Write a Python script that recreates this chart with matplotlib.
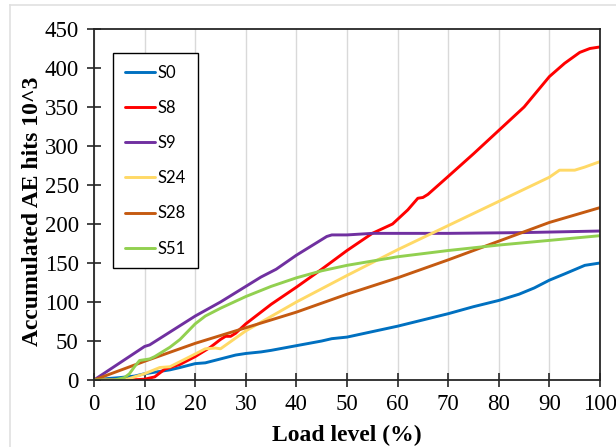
import matplotlib
matplotlib.use("Agg")
import matplotlib.pyplot as plt
from matplotlib.lines import Line2D

# Data
s0_x = [0, 3, 5, 8, 10, 13, 15, 17, 20, 22, 25, 28, 30, 33, 35, 40, 45, 47, 50, 55, 60, 65, 70, 75, 80, 84, 87, 90, 93, 97, 100]
s0_y = [0, 2, 3, 5, 8, 11, 13, 16, 21, 22, 27, 32, 34, 36, 38, 44, 50, 53, 55, 62, 69, 77, 85, 94, 102, 110, 118, 128, 136, 147, 150]

s8_x = [0, 7, 10, 12, 14, 16, 17, 20, 23, 25, 26, 27, 28, 30, 35, 40, 45, 50, 55, 59, 62, 64, 65, 66, 70, 75, 80, 85, 90, 93, 96, 98, 100]
s8_y = [0, 0, 1, 4, 14, 18, 20, 30, 42, 52, 56, 56, 60, 72, 97, 119, 142, 166, 188, 200, 218, 233, 234, 238, 261, 290, 320, 350, 389, 406, 420, 425, 427]

s9_x = [0, 10, 11, 20, 25, 30, 33, 36, 40, 43, 46, 47, 50, 55, 70, 85, 100]
s9_y = [0, 43, 45, 82, 100, 120, 132, 142, 160, 172, 184, 186, 186, 188, 188, 189, 191]

s24_x = [0, 6, 8, 10, 13, 15, 19, 22, 24, 25, 30, 40, 50, 60, 70, 80, 90, 92, 95, 97, 100]
s24_y = [0, 0, 4, 8, 16, 17, 30, 40, 41, 40, 63, 100, 134, 167, 198, 229, 260, 269, 269, 273, 280]

s28_x = [0, 10, 20, 25, 30, 40, 50, 60, 70, 80, 90, 100]
s28_y = [0, 24, 47, 57, 67, 87, 110, 131, 154, 178, 202, 221]

s51_x = [0, 4, 6, 7, 8, 9, 11, 12, 15, 17, 20, 22, 25, 30, 35, 40, 45, 50, 60, 70, 80, 90, 100]
s51_y = [0, 0, 3, 8, 17, 25, 27, 30, 42, 52, 72, 82, 92, 107, 120, 131, 140, 147, 158, 166, 173, 179, 185]

labels = ["S0", "S8", "S9", "S24", "S28", "S51"]
colors = ["#0070C0", "#FF0000", "#7030A0", "#FFD966", "#C55A11", "#92D050"]
series = [(s0_x, s0_y), (s8_x, s8_y), (s9_x, s9_y), (s24_x, s24_y), (s28_x, s28_y), (s51_x, s51_y)]

W, H = 616, 447
fig = plt.figure(figsize=(W / 100, H / 100), dpi=100)
ax = fig.add_axes([94 / W, (H - 380) / H, (600 - 94) / W, (380 - 29) / H])

for (x, y), lab, c in zip(series, labels, colors):
    ax.plot(x, y, color=c, lw=2.1, label=lab, solid_capstyle="round", solid_joinstyle="round")

ax.set_xlim(0, 100)
ax.set_ylim(0, 450)
ax.set_xticks(range(0, 101, 10))
ax.set_yticks(range(0, 451, 50))
ax.grid(axis="x", color="#d9d9d9", lw=1)
ax.set_axisbelow(True)

serif = ["Liberation Serif", "DejaVu Serif"]
for lbl in ax.get_xticklabels() + ax.get_yticklabels():
    lbl.set_fontfamily(serif)
    lbl.set_fontsize(16.5)
ax.tick_params(direction="inout", length=10, width=1.2, color="#262626")
ax.tick_params(axis="y", pad=6)
ax.tick_params(axis="x", pad=5)
for s in ax.spines.values():
    s.set_color("#262626")
    s.set_linewidth(1.3)

ax.set_xlabel("Load level (%)", fontfamily=serif, fontweight="bold", fontsize=17)
ax.xaxis.set_label_coords(0.5, -0.128)
ax.set_ylabel("Accumulated AE hits 10^3", fontfamily=serif, fontweight="bold", fontsize=17)
ax.yaxis.set_label_coords(-0.1, 0.48)

leg = ax.legend(loc="upper left", bbox_to_anchor=((113 - 94) / (600 - 94), (380 - 53) / (380 - 29)),
                prop={"family": ["Lato", "DejaVu Sans"], "size": 12},
                frameon=True, fancybox=False, edgecolor="black", framealpha=1,
                labelspacing=1.15, handlelength=1.8, handletextpad=0.2,
                borderpad=0.7, borderaxespad=0)
leg.get_frame().set_linewidth(1.0)

# faint outer border
fig.add_artist(Line2D([10 / W, 1], [1 - 5 / H, 1 - 5 / H], transform=fig.transFigure, color="#e0e0e0", lw=1.2))
fig.add_artist(Line2D([10 / W, 10 / W], [0, 1 - 5 / H], transform=fig.transFigure, color="#e0e0e0", lw=1.2))

fig.savefig("out.png", dpi=100)
